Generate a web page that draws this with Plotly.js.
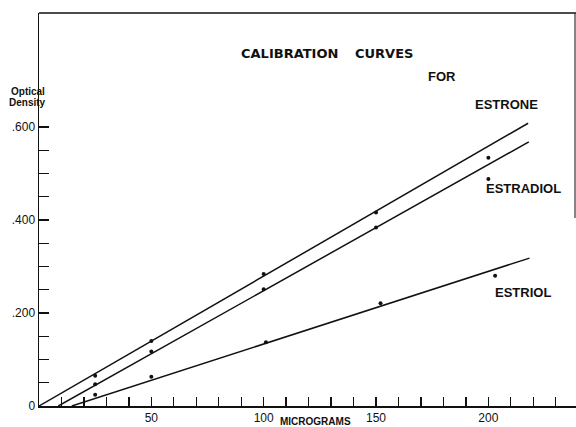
<!DOCTYPE html>
<html>
<head>
<meta charset="utf-8">
<script src="https://cdn.plot.ly/plotly-3.0.1.min.js"></script>
<style>
  html, body { margin: 0; padding: 0; background: #fff; }
  #chart { width: 576px; height: 427px; }
</style>
</head>
<body>
<div id="chart"></div>
<script>
// ---- Data (micrograms vs optical density) ----
const doseX = [25, 50, 100, 150, 200];
const estroneY = [0.065, 0.140, 0.284, 0.416, 0.534];
const estradiolY = [0.047, 0.117, 0.251, 0.384, 0.488];
const estriolX = [25, 50, 101, 152, 203];
const estriolY = [0.024, 0.063, 0.137, 0.221, 0.280];

// hand-drawn calibration lines (end points)
const estroneLineX = [0, 217.7];
const estroneLineY = [0, 0.608];
const estradiolLineX = [8.6, 218];
const estradiolLineY = [0, 0.568];
const estriolLineX = [14.6, 218.3];
const estriolLineY = [0, 0.318];

// ticks
const xTickVals = [10,20,30,40,50,60,70,80,90,100,110,120,130,140,150,160,170,180,190,200,210,220,230];
const xTickText = ['','','','','50','','','','','100','','','','','150','','','','','200','','',''];
const yTickVals = [0,0.05,0.1,0.15,0.2,0.25,0.3,0.35,0.4,0.45,0.5,0.55,0.6];
const yTickText = ['0','','','','.200','','','','.400','','','','.600'];

const ink = '#111';
const lineStyle = {color: ink, width: 1.5};
const dotStyle = {color: ink, size: 4};

const traces = [
  {x: estroneLineX, y: estroneLineY, mode: 'lines', line: lineStyle, hoverinfo: 'skip'},
  {x: estradiolLineX, y: estradiolLineY, mode: 'lines', line: lineStyle, hoverinfo: 'skip'},
  {x: estriolLineX, y: estriolLineY, mode: 'lines', line: lineStyle, hoverinfo: 'skip'},
  {x: doseX, y: estroneY, mode: 'markers', marker: dotStyle, name: 'ESTRONE'},
  {x: doseX, y: estradiolY, mode: 'markers', marker: dotStyle, name: 'ESTRADIOL'},
  {x: estriolX, y: estriolY, mode: 'markers', marker: dotStyle, name: 'ESTRIOL'}
];

// pixel -> paper helpers for text placement
const L = 39, T = 13, W = 537, H = 393;
const px = v => (v - L) / W;
const py = v => (T + H - v) / H;

const bigFont = {family: 'Liberation Sans, Arial, sans-serif', size: 13, color: ink, weight: 'bold'};
const titleFont = {family: 'DejaVu Sans, sans-serif', size: 13, color: ink, weight: 'bold'};
const smallFont = {family: 'Liberation Sans, Arial, sans-serif', size: 10, color: ink, weight: 'bold'};

function ann(text, x, y, font) {
  return {text: text, xref: 'paper', yref: 'paper', x: px(x), y: py(y),
          xanchor: 'center', yanchor: 'middle', showarrow: false, font: font};
}

const layout = {
  width: 576, height: 427,
  margin: {l: L, r: 0, t: T, b: 427 - T - H, pad: 0},
  paper_bgcolor: '#fff', plot_bgcolor: '#fff',
  showlegend: false,
  xaxis: {
    range: [0, 239], showgrid: false, zeroline: false,
    showline: true, linecolor: ink, linewidth: 1.5,
    ticks: 'inside', ticklen: 9, tickwidth: 1.3, tickcolor: ink,
    tickmode: 'array', tickvals: xTickVals, ticktext: xTickText,
    tickfont: {family: 'Liberation Sans, Arial, sans-serif', size: 12, color: ink},
    fixedrange: true
  },
  yaxis: {
    range: [0, 0.845], showgrid: false, zeroline: false,
    showline: true, linecolor: ink, linewidth: 1.5,
    ticks: 'inside', ticklen: 10, tickwidth: 1.3, tickcolor: ink,
    tickmode: 'array', tickvals: yTickVals, ticktext: yTickText,
    tickfont: {family: 'Liberation Sans, Arial, sans-serif', size: 12, color: ink},
    fixedrange: true
  },
  shapes: [
    {type: 'line', xref: 'paper', yref: 'paper', x0: 0, x1: 1, y0: 1, y1: 1,
     line: {color: ink, width: 1.5}},
    {type: 'line', xref: 'paper', yref: 'paper', x0: px(575), x1: px(575), y0: 1, y1: py(218),
     line: {color: '#333', width: 1.2}}
  ],
  annotations: [
    ann('CALIBRATION', 289.5, 54, titleFont),
    ann('CURVES', 383.5, 54, titleFont),
    ann('FOR', 442, 76.5, bigFont),
    ann('ESTRONE', 506.5, 104, bigFont),
    ann('ESTRADIOL', 523, 188, bigFont),
    ann('ESTRIOL', 522.5, 292, bigFont),
    ann('MICROGRAMS', 315, 421.5, smallFont),
    ann('Optical', 27.5, 91.5, smallFont),
    ann('Density', 27.5, 102.5, smallFont)
  ]
};

Plotly.newPlot('chart', traces, layout, {displayModeBar: false, staticPlot: true});
</script>
</body>
</html>
